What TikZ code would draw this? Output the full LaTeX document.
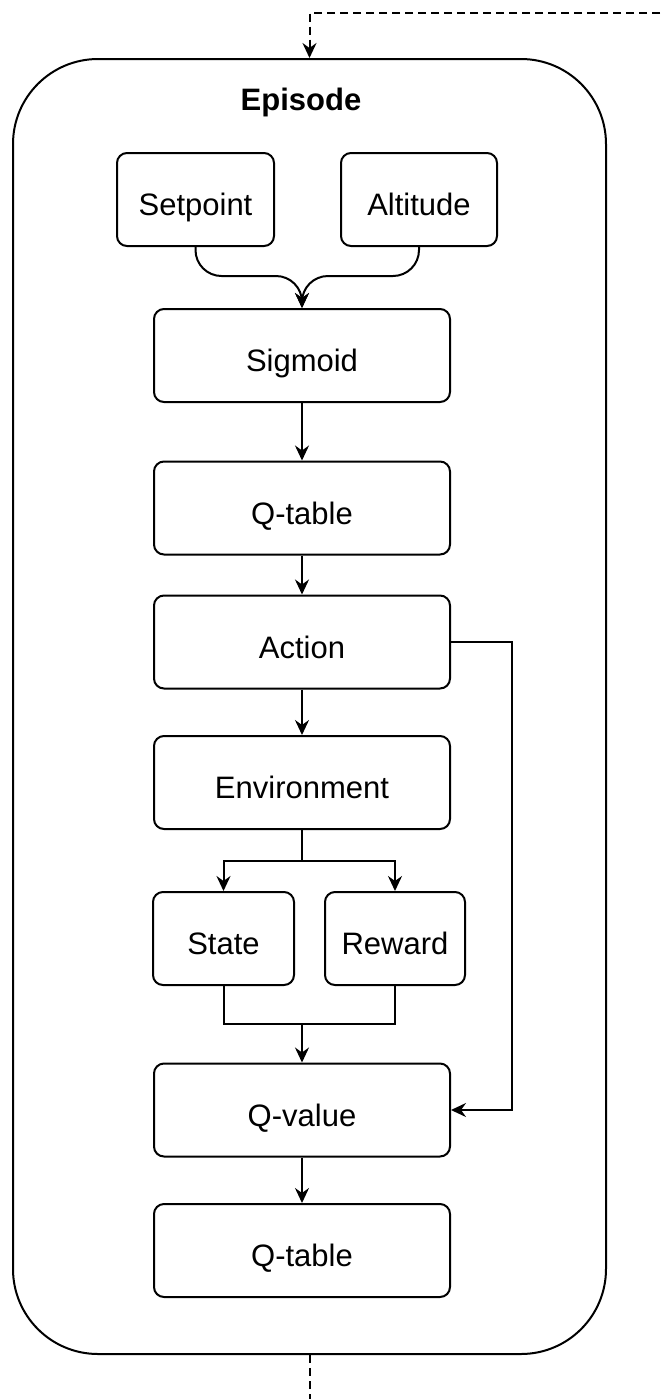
\documentclass[tikz,border=0pt]{standalone}
\usepackage{fontspec}
\setmainfont{Liberation Sans}
\usetikzlibrary{arrows.meta}

\begin{document}
\begin{tikzpicture}[x=0.5pt, y=-0.5pt, line width=1pt,
  >={Stealth[length=7.5pt, width=7pt, inset=2.5pt]},
  block/.style={draw, rounded corners=5pt, inner sep=0pt, minimum height=46.5pt,
                text height=19pt, text depth=3pt,
                font=\fontsize{15.5}{18}\selectfont},
  wide/.style={block, minimum width=148pt},
  feedback/.style={dash pattern=on 4pt off 2.5pt}]

\pgfmathsetmacro{\xmid}{302}

% --- Canvas ---
\useasboundingbox (0,0) rectangle (660,1399);

% --- Episode frame ---
\node[draw, rounded corners=42.5pt, minimum width=296.5pt, minimum height=647.5pt] (episode) at (309.5,706.5) {};
\node[anchor=base, font=\fontsize{15.5}{18}\selectfont\bfseries] (title) at (301,110) {Episode};

% --- Inputs ---
\node[block, minimum width=78.5pt] (setpoint) at (195.5,199.5) {Setpoint};
\node[block, minimum width=78pt] (altitude) at (419,199.5) {Altitude};

% --- Main chain ---
\node[wide] (sigmoid) at (\xmid,355.5) {Sigmoid};
\node[wide] (qtable) at (\xmid,508) {Q-table};
\node[wide] (action) at (\xmid,642) {Action};
\node[wide] (environment) at (\xmid,782.5) {Environment};
\node[block, minimum width=70.5pt] (state) at (223.5,938.5) {State};
\node[block, minimum width=70pt] (reward) at (395,938.5) {Reward};
\node[wide] (qvalue) at (\xmid,1110) {Q-value};
\node[wide] (update) at (\xmid,1250.5) {Q-table};

% --- Junctions ---
\coordinate (join) at (\xmid,276);
\coordinate (split) at (\xmid,861);
\coordinate (merge) at (\xmid,1024);
\coordinate (side) at (512,642);
\coordinate (feedin) at (660,13);
\coordinate (feedout) at (309.5,1399);

% inputs meet above the sigmoid
\draw[->, rounded corners=13pt] (setpoint.south) |- (join) -- (sigmoid.north);
\draw[->, rounded corners=13pt] (altitude.south) |- (join) -- (sigmoid.north);

\draw[->] (sigmoid.south) -- (qtable.north);
\draw[->] (qtable.south) -- (action.north);
\draw[->] (action.south) -- (environment.north);

% environment gives state and reward
\draw[->] (environment.south) -- (split) -| (state.north);
\draw[->] (split) -| (reward.north);
\draw (state.south) |- (merge) -| (reward.south);
\draw[->] (merge) -- (qvalue.north);

% action goes straight to the update
\draw[->] (action.east) -- (side) |- (qvalue.east);

\draw[->] (qvalue.south) -- (update.north);

% --- Link between episodes ---
\draw[feedback, ->] (feedin) -| (episode.north);
\draw[feedback] (episode.south) -- (feedout);

\end{tikzpicture}
\end{document}
